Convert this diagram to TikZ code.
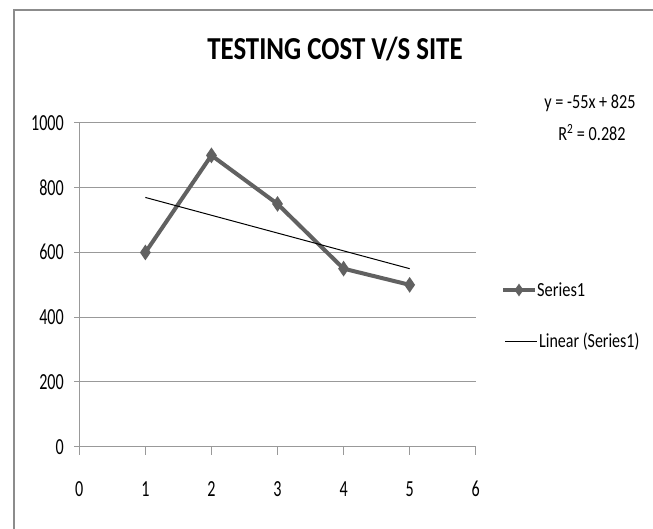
\documentclass[tikz,border=0pt]{standalone}
\usepackage{fontspec}
\setmainfont{Carlito}
\usepackage{graphicx}
\newcommand{\sqz}[2]{\scalebox{#1}[1]{#2}}
\tikzset{
  frame/.style={draw=black!45, line width=2pt},
  grid/.style={draw=black!40, line width=1pt},
  series/.style={draw=black!62, line width=4pt, line join=round},
  trend/.style={draw=black, line width=1pt},
  diam/.style={fill=black!62, inner sep=0pt, minimum width=11pt, minimum height=16pt, diamond, shape aspect=0.69},
  ylab/.style={anchor=base east, inner sep=0pt, font=\fontsize{23}{23}\selectfont},
  xlab/.style={anchor=base, inner sep=0pt, font=\fontsize{23}{23}\selectfont},
  leg/.style={anchor=base west, inner sep=0pt, font=\fontsize{20}{20}\selectfont},
  eq/.style={anchor=base, inner sep=0pt, font=\fontsize{20}{20}\selectfont},
}
\usetikzlibrary{shapes.geometric}
\begin{document}
\begin{tikzpicture}[x=1pt,y=-1pt]
\useasboundingbox (0,0) rectangle (653,529);
\fill[white] (0,0) rectangle (653,529);
% chart frame
\draw[frame] (14,540) -- (14,10.3) -- (670,10.3);
% title
\node[anchor=base, inner sep=0pt, font=\fontsize{32}{32}\selectfont\bfseries] (title) at (335,60) {\sqz{0.84}{TESTING COST V/S SITE}};
% gridlines
\foreach \v/\name in {0/g0,200/g200,400/g400,600/g600,800/g800,1000/g1000}{
  \coordinate (\name l) at (74,{446.7-0.3237*\v});
  \coordinate (\name r) at (475.7,{446.7-0.3237*\v});
  \draw[grid] (\name l) -- (\name r);
  \node[ylab] (\name lab) at (64,{446.7-0.3237*\v+7.5}) {\sqz{0.7}{\v}};
}
% y axis
\coordinate (yaxT) at (79.3,123);
\coordinate (yaxB) at (79.3,454.5);
\draw[grid] (yaxT) -- (yaxB);
% x ticks and labels
\foreach \i in {0,...,6}{
  \coordinate (xt\i) at ({79.3+66.07*\i},446.7);
  \coordinate (xb\i) at ({79.3+66.07*\i},454.5);
  \draw[grid] (xt\i) -- (xb\i);
  \node[xlab] (xl\i) at ({79.3+66.07*\i},496.5) {\sqz{0.7}{\i}};
}
% data points
\coordinate (p1) at ({79.3+66.07*1},{446.7-0.3237*600});
\coordinate (p2) at ({79.3+66.07*2},{446.7-0.3237*900});
\coordinate (p3) at ({79.3+66.07*3},{446.7-0.3237*750});
\coordinate (p4) at ({79.3+66.07*4},{446.7-0.3237*550});
\coordinate (p5) at ({79.3+66.07*5},{446.7-0.3237*500});
% trend line
\coordinate (t1) at ({79.3+66.07*1},{446.7-0.3237*770});
\coordinate (t5) at ({79.3+66.07*5},{446.7-0.3237*550});
\draw[series] (p1) -- (p2) -- (p3) -- (p4) -- (p5);
\draw[trend] (t1) -- (t5);
\foreach \k in {1,...,5}{ \node[diam] (m\k) at (p\k) {}; }
% equation
\node[eq] (eq1) at (590,109) {\sqz{0.81}{y = -55x + 825}};
\node[eq] (eq2) at (592,141) {\sqz{0.81}{R\textsuperscript{2} = 0.282}};
% legend
\coordinate (la) at (503,290);
\coordinate (lb) at (535,290);
\draw[draw=black!62, line width=3.3pt] (la) -- (lb);
\node[diam, minimum width=9pt, minimum height=13pt] (lm) at (519,290) {};
\node[leg] (l1) at (537,296.5) {\sqz{0.82}{Series1}};
\coordinate (lc) at (505,341);
\coordinate (ld) at (537,341);
\draw[trend] (lc) -- (ld);
\node[leg] (l2) at (539,347.5) {\sqz{0.8}{Linear (Series1)}};
\end{tikzpicture}
\end{document}
